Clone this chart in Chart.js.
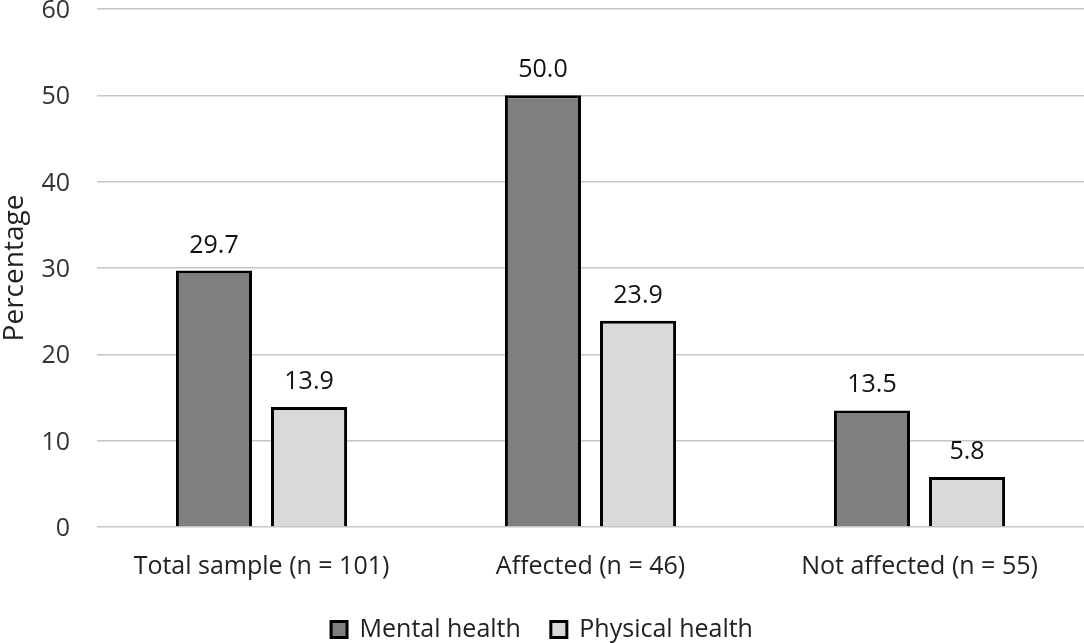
<!DOCTYPE html>
<html lang="en">
<head>
    <meta charset="UTF-8">
    <title>Mental and physical health</title>
    <script src="https://cdn.jsdelivr.net/npm/chart.js"></script>
    <style>
        html, body { margin: 0; padding: 0; background: #fff; }
        #wrap { width: 1084px; height: 643px; }
    </style>
</head>
<body>
    <div id="wrap"><canvas id="healthChart"></canvas></div>

    <script>
        const categories = ['Total sample (n = 101)', 'Affected (n = 46)', 'Not affected (n = 55)'];
        const mentalHealth = [29.7, 50.0, 13.5];
        const physicalHealth = [13.9, 23.9, 5.8];
        const yTicks = [0, 10, 20, 30, 40, 50, 60];

        const fontFamily = '"Open Sans", "Noto Sans", sans-serif';
        const fontSize = 25;

        // draws the value above each bar
        const valueLabels = {
            id: 'valueLabels',
            afterDatasetsDraw(chart) {
                const ctx = chart.ctx;
                ctx.save();
                ctx.font = fontSize + 'px ' + fontFamily;
                ctx.fillStyle = '#111';
                ctx.textAlign = 'center';
                ctx.textBaseline = 'alphabetic';
                chart.data.datasets.forEach((ds, i) => {
                    chart.getDatasetMeta(i).data.forEach((bar, j) => {
                        ctx.fillText(ds.data[j].toFixed(1), bar.x, bar.y - 18);
                    });
                });
                ctx.restore();
            }
        };

        const ctx = document.getElementById('healthChart').getContext('2d');
        new Chart(ctx, {
            type: 'bar',
            data: {
                labels: categories,
                datasets: [
                    {
                        label: 'Mental health',
                        data: mentalHealth,
                        backgroundColor: '#7f7f7f',
                        borderColor: '#000',
                        borderWidth: 3,
                        categoryPercentage: 0.578,
                        barPercentage: 0.8
                    },
                    {
                        label: 'Physical health',
                        data: physicalHealth,
                        backgroundColor: '#d9d9d9',
                        borderColor: '#000',
                        borderWidth: 3,
                        categoryPercentage: 0.578,
                        barPercentage: 0.8
                    }
                ]
            },
            options: {
                responsive: true,
                maintainAspectRatio: false,
                animation: false,
                layout: {
                    autoPadding: false,
                    padding: { top: 9, right: 0, bottom: -9, left: 0 }
                },
                plugins: {
                    legend: {
                        position: 'bottom',
                        labels: {
                            font: { family: fontFamily, size: fontSize },
                            color: '#222',
                            boxWidth: 16,
                            boxHeight: 16,
                            padding: 30,
                            generateLabels(chart) {
                                return chart.data.datasets.map((ds, i) => ({
                                    text: ds.label,
                                    fillStyle: ds.backgroundColor,
                                    strokeStyle: '#000',
                                    lineWidth: 3,
                                    datasetIndex: i,
                                    fontColor: '#222'
                                }));
                            }
                        }
                    },
                    tooltip: { enabled: false }
                },
                scales: {
                    x: {
                        grid: { display: false },
                        border: { display: false },
                        afterFit(axis) { axis.height = 60; },
                        ticks: {
                            font: { family: fontFamily, size: fontSize },
                            color: '#222',
                            padding: 17
                        }
                    },
                    y: {
                        min: 0,
                        max: 60,
                        afterBuildTicks(axis) {
                            axis.ticks = yTicks.map(v => ({ value: v }));
                        },
                        // fixed axis width; tick padding would otherwise push the plot down
                        afterFit(axis) {
                            axis.width = 97;
                            axis.paddingTop = 9;
                            axis.paddingBottom = 0;
                        },
                        grid: { color: '#c6c6c6', lineWidth: 1.5, drawTicks: false },
                        border: { display: false },
                        ticks: {
                            font: { family: fontFamily, size: fontSize },
                            color: '#333',
                            padding: 27,
                            labelOffset: 2
                        },
                        title: {
                            display: true,
                            text: 'Percentage',
                            font: { family: fontFamily, size: 28 },
                            color: '#222',
                            padding: { top: -2, bottom: 0 }
                        }
                    }
                }
            },
            plugins: [valueLabels]
        });
    </script>
</body>
</html>
